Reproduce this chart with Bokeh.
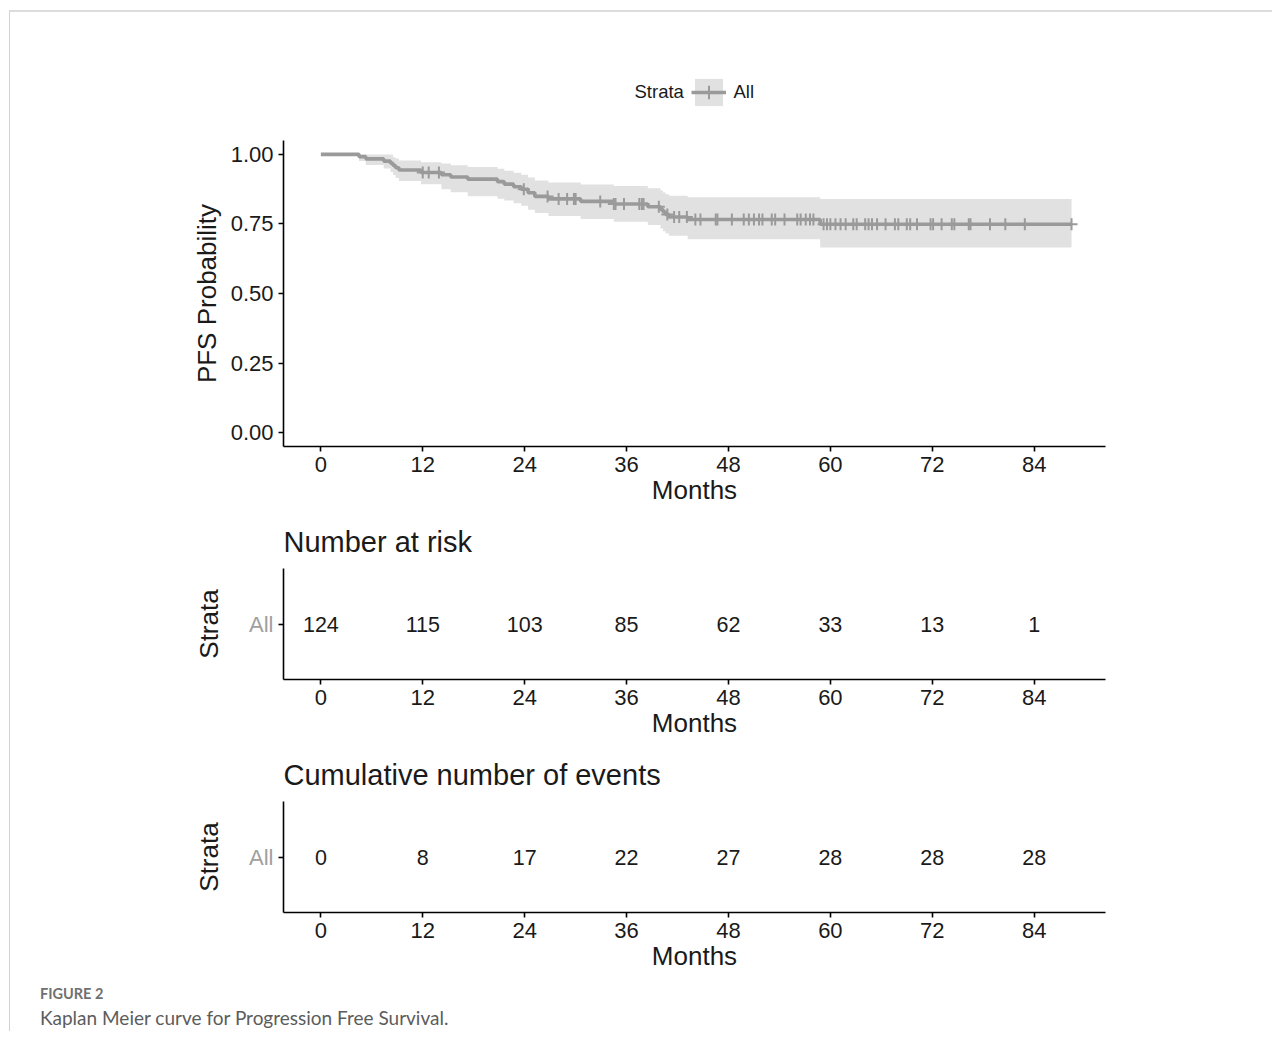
import numpy as np
from bokeh.plotting import figure
from bokeh.models import Range1d, FixedTicker, Label, Legend, LegendItem, Div
from bokeh.layouts import column
from bokeh.embed import file_html
from bokeh.resources import INLINE
from bokeh.core.properties import value

# ---------------- data ----------------
step_times = [0, 4.5, 5.3, 7.4, 8.2, 8.5, 8.8, 9.2, 11.8, 14.2, 15.3, 17.3, 20.8, 21.6,
              22.7, 23.6, 24.4, 25.2, 26.8, 30.6, 34.5, 38.5, 40.0, 40.3, 40.6, 41.0, 43.2, 58.8]
step_surv = [1.0, 0.992, 0.984, 0.976, 0.968, 0.960, 0.952, 0.944, 0.935, 0.927, 0.919, 0.911,
             0.902, 0.893, 0.884, 0.875, 0.862, 0.849, 0.840, 0.831, 0.822, 0.812, 0.802, 0.793,
             0.784, 0.775, 0.766, 0.749]
step_lower = [1.0, 0.976, 0.962, 0.949, 0.937, 0.926, 0.915, 0.904, 0.893, 0.875, 0.864, 0.850,
              0.841, 0.834, 0.824, 0.815, 0.801, 0.789, 0.779, 0.768, 0.758, 0.746, 0.734, 0.724,
              0.716, 0.708, 0.695, 0.665]
step_upper = [1.0, 1.0, 1.0, 1.0, 1.0, 0.990, 0.985, 0.978, 0.972, 0.967, 0.961, 0.955,
              0.948, 0.941, 0.934, 0.927, 0.917, 0.906, 0.899, 0.892, 0.886, 0.878, 0.870, 0.863,
              0.857, 0.851, 0.846, 0.840]
end_time = 88.4
censor_times = [12.0, 12.7, 13.9, 23.9, 26.7, 28.0, 29.0, 29.8, 30.0, 32.9, 34.5, 34.7, 35.7,
                37.5, 37.8, 38.0, 39.8, 40.8, 41.6, 42.2, 43.1, 44.1, 44.7, 46.5, 46.7, 48.4,
                49.8, 50.4, 51.0, 51.6, 52.0, 53.1, 53.5, 54.6, 56.1, 56.5, 57.1, 57.6, 58.0,
                59.2, 59.6, 60.0, 60.6, 61.2, 61.8, 62.7, 63.1, 64.1, 64.5, 64.9, 65.5, 66.5,
                67.6, 68.0, 69.0, 69.4, 70.2, 71.8, 72.1, 73.1, 74.3, 74.6, 76.3, 76.5, 78.8,
                80.6, 82.9, 88.4]

risk_times = [0, 12, 24, 36, 48, 60, 72, 84]
n_at_risk = [124, 115, 103, 85, 62, 33, 13, 1]
n_events = [0, 8, 17, 22, 27, 28, 28, 28]

x_ticks = [0, 12, 24, 36, 48, 60, 72, 84]
y_ticks = [0.0, 0.25, 0.5, 0.75, 1.0]
y_tick_labels = ["0.00", "0.25", "0.50", "0.75", "1.00"]
strata_title = "Strata"
strata_label = "All"
caption_head = "FIGURE 2"
caption_text = "Kaplan Meier curve for Progression Free Survival."

# ---------------- style ----------------
FONT = "Liberation Sans"
CURVE = "#9a9a9a"
BAND = "#e1e1e1"
INK = "#1a1a1a"
FIG_W = 1262
ML, MR = 273, 167
X_RANGE = (-4.4, 92.4)


def style_axes(p):
    for ax in (p.xaxis[0], p.yaxis[0]):
        ax.axis_line_color = "black"
        ax.axis_line_width = 1.6
        ax.major_tick_line_color = "black"
        ax.major_tick_line_width = 1.6
        ax.major_tick_out = 5
        ax.major_tick_in = 0
        ax.minor_tick_out = 0
        ax.minor_tick_in = 0
        ax.major_label_text_font = FONT
        ax.major_label_text_font_size = "22px"
        ax.major_label_text_color = INK
        ax.axis_label_text_font = FONT
        ax.axis_label_text_font_size = "26px"
        ax.axis_label_text_font_style = "normal"
        ax.axis_label_text_color = INK
        ax.major_label_standoff = 5
    p.xaxis.ticker = FixedTicker(ticks=x_ticks)
    p.xaxis.axis_label = "Months"
    p.xaxis.axis_label_standoff = 0
    p.xgrid.grid_line_color = None
    p.ygrid.grid_line_color = None
    p.outline_line_color = None


# ---------------- legend strip (above the KM plot) ----------------
LEG_H = 116
p0 = figure(width=FIG_W, height=LEG_H, output_backend="svg", toolbar_location=None,
            x_range=Range1d(0, 1), y_range=Range1d(0, 1),
            x_axis_location=None, y_axis_location=None,
            min_border_left=ML, min_border_right=MR, min_border_top=0, min_border_bottom=0)
p0.grid.grid_line_color = None
p0.outline_line_color = None
# legend-key renderers: their single point lies outside the strip's ranges, so only the key shows
k_band = p0.varea(x=[5, 6], y1=[5, 5], y2=[6, 6], fill_color=BAND, fill_alpha=1.0)
k_line = p0.line(x=[5, 6], y=[5, 5], line_color=CURVE, line_width=3.6)
k_cross = p0.scatter(x=[5], y=[5], marker="cross", size=12, line_color=CURVE, line_width=2)
legend = Legend(items=[LegendItem(label=strata_label, renderers=[k_band, k_line, k_cross])],
                location=(407.5, 19.5), orientation="horizontal",
                glyph_width=35, glyph_height=34, label_height=34, label_standoff=8,
                padding=0, margin=0, spacing=0, border_line_color=None,
                background_fill_alpha=0, label_text_font=FONT,
                label_text_font_size="18.5px", label_text_color=INK,
                label_text_baseline="middle")
p0.add_layout(legend)
p0.add_layout(Label(x=351, y=37, x_units="screen", y_units="screen", text=strata_title,
                    text_font=FONT, text_font_size="18.5px", text_color=INK,
                    text_baseline="middle", text_align="left"))

# ---------------- KM plot ----------------
t_all = np.array(step_times + [end_time])
bx = np.repeat(t_all, 2)[1:-1]
blo = np.repeat(np.array(step_lower), 2)
bhi = np.repeat(np.array(step_upper), 2)

p1 = figure(width=FIG_W, height=12 + 306 + 66, output_backend="svg", toolbar_location=None,
            x_range=Range1d(*X_RANGE), y_range=Range1d(-0.05, 1.05),
            min_border_left=ML, min_border_right=MR, min_border_top=12, min_border_bottom=66)
style_axes(p1)
p1.yaxis.ticker = FixedTicker(ticks=y_ticks)
p1.yaxis.major_label_overrides = {t: l for t, l in zip(y_ticks, y_tick_labels)}
p1.yaxis.axis_label = "PFS Probability"
p1.yaxis.axis_label_standoff = 6

p1.varea(x=bx, y1=blo, y2=bhi, fill_color=BAND, fill_alpha=1.0)
p1.step(x=list(t_all), y=step_surv + [step_surv[-1]], mode="after",
        line_color=CURVE, line_width=3.6)
idx = np.searchsorted(np.array(step_times), np.array(censor_times), side="right") - 1
cy = np.array(step_surv)[idx]
p1.scatter(x=censor_times, y=cy, marker="cross", size=12, line_color=CURVE, line_width=2)


# ---------------- tables ----------------
def table_fig(title, values, mbt, mbb):
    p = figure(width=FIG_W, height=mbt + 111 + mbb, output_backend="svg",
               toolbar_location=None, x_range=Range1d(*X_RANGE), y_range=Range1d(0, 1),
               min_border_left=ML, min_border_right=MR, min_border_top=mbt,
               min_border_bottom=mbb, title=title)
    style_axes(p)
    p.title.text_font = FONT
    p.title.text_font_size = "29px"
    p.title.text_font_style = "normal"
    p.title.text_color = INK
    p.title.align = "left"
    p.title.standoff = 21
    p.yaxis.ticker = FixedTicker(ticks=[0.5])
    p.yaxis.major_label_overrides = {0.5: strata_label}
    p.yaxis.major_label_text_color = "#a0a0a0"
    p.yaxis.axis_label = "Strata"
    p.yaxis.axis_label_standoff = 22
    p.text(x=risk_times, y=[0.5] * len(risk_times), text=[str(v) for v in values],
           text_align="center", text_baseline="middle", text_font=value(FONT),
           text_font_size=value("21.5px"), text_color=INK)
    return p


p2 = table_fig("Number at risk", n_at_risk, 56, 66)
p3 = table_fig("Cumulative number of events", n_events, 56, 69)

# ---------------- caption ----------------
cap_html = (
    '<div style="font-family: Lato, sans-serif; font-weight: bold; font-size: 14.5px; '
    'color: #707070; line-height: 26px; margin: 0; padding: 0 0 0 30px;">'
    + caption_head + '</div>'
    '<div style="font-family: Lato, sans-serif; font-size: 19px; color: #5c5c5c; '
    'line-height: 22px; margin: 0; padding: 0 0 0 30px;">' + caption_text + '</div>'
)
p4 = Div(text=cap_html, width=FIG_W, height=50, margin=0)

layout = column(p0, p1, p2, p3, p4, spacing=0,
                styles={"border-top": "2px solid #dcdcdc", "border-left": "1px solid #d2d2d2",
                        "margin-top": "10px", "margin-left": "9px"})

open("out.html", "w").write(file_html(layout, INLINE))
